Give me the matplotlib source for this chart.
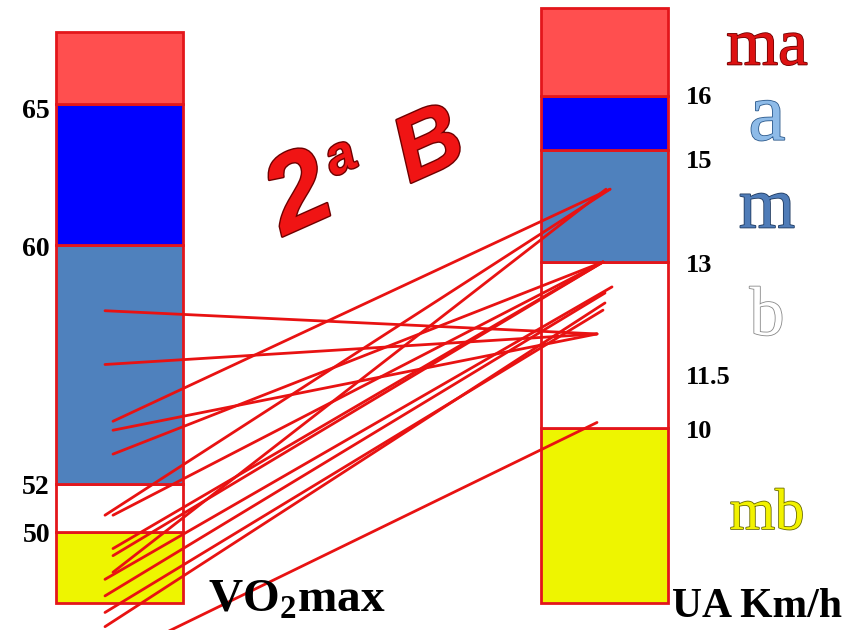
import numpy as np
import matplotlib
matplotlib.use("Agg")
import matplotlib.pyplot as plt
import matplotlib.patheffects as pe

# band edges (value) for each bar and where they sit on the canvas (pixel rows)
vo2_edges = [47, 50, 52, 60, 65, 67.5]
vo2_rows = [603, 532, 484, 245, 104, 32]
speed_edges = [6.8, 10, 13, 15, 16, 17.6]
speed_rows = [603, 428, 262, 150, 96, 8]

band_names = ["mb", "b", "m", "a", "ma"]
band_colors = ["#EEF500", "#FFFFFF", "#4F81BD", "#0000FF", "#FF4F4F"]

# each red line: VO2max of a player -> speed (UA km/h)
vo2_values = [57.8, 56.0, 54.1, 53.8, 53.0, 50.7, 50.7, 49.3, 49.0, 48.3, 48.0, 47.3, 46.6, 46.0, 44.5]
speed_values = [11.7, 11.7, 14.3, 11.7, 13.0, 14.3, 13.0, 13.0, 13.0, 14.3, 12.55, 12.44, 12.13, 12.26, 10.1]
start_shift = [0, 0, 1, 1, 1, 0, 1, 1, 1, 1, 0, 0, 0, 0, 0]
end_shift = [-7, -7, 6, -7, -1, 6, -1, -1, -1, 2, 8, 1, -1, 1, -7]

vo2_ticks = ["65", "60", "52", "50"]
vo2_tick_rows = [112, 250, 487, 535]
speed_ticks = ["16", "15", "13", "11.5", "10"]
speed_tick_rows = [98, 162, 265, 377, 432]


def to_row(v, vals, rows):
    v = np.atleast_1d(np.asarray(v, float))
    out = np.interp(v, vals, rows)
    slope = (rows[1] - rows[0]) / (vals[1] - vals[0])
    low = v < vals[0]
    out[low] = rows[0] + (v[low] - vals[0]) * slope
    return out


fig = plt.figure(figsize=(8.56, 6.30), dpi=100)
ax = fig.add_axes([0, 0, 1, 1])
ax.set_xlim(0, 856)
ax.set_ylim(630, 0)
ax.axis("off")

edge_red = "#E3161B"
left_x, right_x, bar_w = 119.5, 604.5, 127

for x, edges, rows in [(left_x, vo2_edges, vo2_rows), (right_x, speed_edges, speed_rows)]:
    r = to_row(edges, edges, rows)
    ax.bar([x] * 5, r[1:] - r[:-1], bottom=r[:-1], width=bar_w,
           color=band_colors, edgecolor=edge_red, linewidth=2, zorder=1)

y0 = to_row(vo2_values, vo2_edges, vo2_rows)
y1 = to_row(speed_values, speed_edges, speed_rows)
for a, b, s, e in zip(y0, y1, start_shift, end_shift):
    ax.plot([105 + 8 * s, 604 + e], [a, b], color="#E81212", lw=2, zorder=3,
            solid_capstyle="round")

serif = "Liberation Serif"
for t, r in zip(vo2_ticks, vo2_tick_rows):
    ax.text(50, r, t, ha="right", va="center", fontsize=20, fontweight="bold", family=serif)
for t, r in zip(speed_ticks, speed_tick_rows):
    ax.text(686, r, t, ha="left", va="center", fontsize=19, fontweight="bold", family=serif)

# category letters next to the right bar
letter_rows = [515, 318, 210, 120, 48]
letter_fill = ["#F2F200", "#FFFFFF", "#4F7CB8", "#8EBBE8", "#DD1111"]
letter_edge = ["#6b6b00", "#888888", "#1F3A60", "#2D5A8C", "#700000"]
letter_size = [42, 50, 52, 60, 48]
for name, r, fc, ec, fs in zip(band_names, letter_rows, letter_fill, letter_edge, letter_size):
    ax.text(767, r, name, ha="center", va="center", fontsize=fs, family=serif,
            color=fc, path_effects=[pe.Stroke(linewidth=1.2, foreground=ec), pe.Normal()])

title_fx = [pe.Stroke(linewidth=2, foreground="#6E0000"), pe.Normal()]
ax.text(300, 198, "2", fontsize=78, fontweight="bold", style="italic", family="Liberation Sans",
        color="#F01414", rotation=24, ha="center", va="center", path_effects=title_fx)
ax.text(341, 158, "a", fontsize=38, fontweight="bold", style="italic", family="Liberation Sans",
        color="#F01414", rotation=24, ha="center", va="center", path_effects=title_fx)
ax.text(430, 148, "B", fontsize=66, fontweight="bold", style="italic", family="Liberation Sans",
        color="#F01414", rotation=24, ha="center", va="center", path_effects=title_fx)

ax.text(208, 600, r"VO$_\mathregular{2}$max", ha="left", va="center", fontsize=34,
        fontweight="bold", family=serif)
ax.text(672, 607, "UA Km/h", ha="left", va="center", fontsize=30,
        fontweight="bold", family=serif)

fig.savefig("out.png", dpi=100)
